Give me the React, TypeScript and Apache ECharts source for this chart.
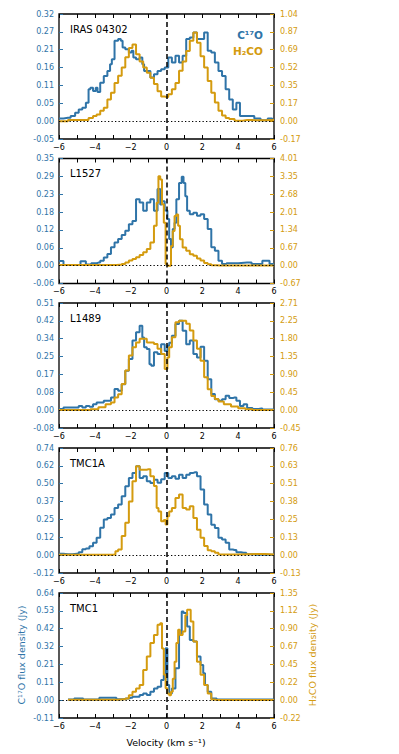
import React, { useEffect, useRef } from "react";
import * as echarts from "echarts";

const BLUE = "#2f74a8";
const ORANGE = "#d49b0f";
const FONT = "DejaVu Sans";

const panelNames = ["IRAS 04302", "L1527", "L1489", "TMC1A", "TMC1"];
const leftMax = [0.32, 0.35, 0.508, 0.74, 0.64];
const rightMax = [1.04, 4.014, 2.7058, 0.76, 1.35];
const leftTickLabels = [
  ["-0.05", "0.00", "0.05", "0.11", "0.16", "0.21", "0.27", "0.32"],
  ["-0.06", "0.00", "0.06", "0.12", "0.18", "0.23", "0.29", "0.35"],
  ["-0.08", "0.00", "0.08", "0.17", "0.25", "0.34", "0.42", "0.51"],
  ["-0.12", "0.00", "0.12", "0.25", "0.37", "0.50", "0.62", "0.74"],
  ["-0.11", "0.00", "0.11", "0.21", "0.32", "0.42", "0.53", "0.64"],
];
const rightTickLabels = [
  ["-0.17", "0.00", "0.17", "0.35", "0.52", "0.69", "0.87", "1.04"],
  ["-0.67", "0.00", "0.67", "1.34", "2.01", "2.68", "3.35", "4.01"],
  ["-0.45", "0.00", "0.45", "0.90", "1.35", "1.80", "2.25", "2.71"],
  ["-0.13", "0.00", "0.13", "0.25", "0.38", "0.51", "0.63", "0.76"],
  ["-0.22", "0.00", "0.22", "0.45", "0.67", "0.90", "1.12", "1.35"],
];
const velocityTicks = [-6, -4, -2, 0, 2, 4, 6];

// [velocity km/s, flux Jy]
const c17oIRAS: [number, number][] = [
  [-6, 0.008], [-5.5, 0.01], [-5.2, 0.015], [-5, 0.025], [-4.8, 0.035], [-4.6, 0.04], [-4.4, 0.055],
  [-4.3, 0.095], [-4.2, 0.1], [-4, 0.09], [-3.9, 0.1], [-3.8, 0.087], [-3.6, 0.115], [-3.4, 0.135],
  [-3.2, 0.15], [-3.1, 0.17], [-3, 0.185], [-2.8, 0.24], [-2.6, 0.245], [-2.5, 0.24], [-2.4, 0.22],
  [-2.2, 0.215], [-2, 0.205], [-1.9, 0.21], [-1.8, 0.19], [-1.6, 0.185], [-1.4, 0.19], [-1.3, 0.17],
  [-1.2, 0.15], [-1, 0.15], [-0.8, 0.13], [-0.6, 0.14], [-0.4, 0.15], [-0.2, 0.155], [0, 0.16],
  [0.2, 0.19], [0.4, 0.175], [0.6, 0.195], [0.8, 0.175], [1, 0.195], [1.2, 0.245], [1.4, 0.25],
  [1.6, 0.265], [1.8, 0.245], [2, 0.245], [2.2, 0.265], [2.4, 0.21], [2.6, 0.205], [2.8, 0.175],
  [3, 0.15], [3.2, 0.135], [3.4, 0.095], [3.6, 0.065], [3.8, 0.035], [4, 0.055], [4.2, 0.015],
  [4.5, 0.015], [4.8, 0.015], [5, 0.008], [5.5, 0.003], [5.8, 0.008], [6, 0.004],
];
const h2coIRAS: [number, number][] = [
  [-6, 0], [-5, 0.01], [-4.5, 0.01], [-4.2, 0.03], [-4, 0.05], [-3.8, 0.065], [-3.6, 0.1], [-3.4, 0.13],
  [-3.2, 0.21], [-3, 0.275], [-2.8, 0.37], [-2.6, 0.44], [-2.4, 0.52], [-2.2, 0.62], [-2, 0.71],
  [-1.8, 0.745], [-1.6, 0.65], [-1.4, 0.58], [-1.2, 0.52], [-1, 0.47], [-0.8, 0.42], [-0.6, 0.36],
  [-0.4, 0.29], [-0.2, 0.24], [0, 0.235], [0.2, 0.26], [0.4, 0.31], [0.6, 0.37], [0.8, 0.49], [1, 0.58],
  [1.2, 0.68], [1.4, 0.78], [1.6, 0.86], [1.8, 0.76], [2, 0.63], [2.2, 0.52], [2.4, 0.39], [2.6, 0.275],
  [2.8, 0.18], [3, 0.1], [3.2, 0.055], [3.4, 0.03], [3.6, 0.02], [4, 0.005], [4.5, 0.01], [5, 0.008], [6, 0.01],
];

const c17oL1527: [number, number][] = [
  [-6, 0.015], [-5.8, 0.015], [-5.7, 0.002], [-5, 0.002], [-4.6, 0.014], [-4.4, 0.004], [-4, 0.008],
  [-3.8, 0.01], [-3.6, 0.016], [-3.4, 0.027], [-3.2, 0.038], [-3, 0.06], [-2.8, 0.076], [-2.6, 0.087],
  [-2.4, 0.1], [-2.2, 0.114], [-2, 0.135], [-1.8, 0.146], [-1.6, 0.217], [-1.4, 0.206], [-1.2, 0.179],
  [-1, 0.206], [-0.8, 0.217], [-0.6, 0.179], [-0.4, 0.25], [-0.3, 0.2], [-0.2, 0.21], [0, 0.18],
  [0.1, 0.152], [0.2, 0.087], [0.3, 0.06], [0.4, 0.12], [0.5, 0.14], [0.6, 0.217], [0.8, 0.27],
  [0.9, 0.29], [1, 0.27], [1.1, 0.227], [1.2, 0.179], [1.4, 0.168], [1.6, 0.173], [1.8, 0.163],
  [2, 0.168], [2.2, 0.152], [2.4, 0.12], [2.6, 0.06], [2.8, 0.049], [3, 0.016], [3.2, 0.005],
  [3.5, 0.008], [4.5, 0.01], [5, 0.005], [5.7, 0.016], [5.8, 0.005], [6, 0.005],
];
const h2coL1527: [number, number][] = [
  [-6, 0.02], [-3, 0.02], [-2.6, 0.03], [-2.4, 0.06], [-2.2, 0.12], [-2, 0.19], [-1.8, 0.25], [-1.6, 0.31],
  [-1.4, 0.4], [-1.2, 0.5], [-1, 0.62], [-0.8, 0.87], [-0.6, 1.49], [-0.5, 2.36], [-0.4, 3.35],
  [-0.3, 3.23], [-0.2, 2.3], [-0.1, 1.61], [0, 0.06], [0.1, 0], [0.2, 0], [0.3, 0.74], [0.4, 1.3],
  [0.5, 1.86], [0.6, 1.92], [0.7, 1.49], [0.8, 0.99], [1, 0.68], [1.2, 0.56], [1.4, 0.43], [1.6, 0.37],
  [1.8, 0.27], [2, 0.19], [2.2, 0.1], [2.4, 0.05], [2.6, 0.015], [3, 0.005], [6, 0.005],
];

const c17oL1489: [number, number][] = [
  [-6, 0.005], [-5.5, 0.013], [-5, 0.013], [-4.8, 0.02], [-4.6, 0.012], [-4.4, 0.02], [-4.2, 0.016],
  [-4, 0.028], [-3.8, 0.036], [-3.6, 0.036], [-3.4, 0.044], [-3.2, 0.044], [-3, 0.06], [-2.8, 0.1],
  [-2.6, 0.092], [-2.4, 0.123], [-2.2, 0.187], [-2, 0.242], [-1.8, 0.33], [-1.6, 0.369], [-1.4, 0.4],
  [-1.3, 0.345], [-1.2, 0.298], [-1, 0.29], [-0.9, 0.218], [-0.8, 0.21], [-0.6, 0.274], [-0.4, 0.266],
  [-0.2, 0.313], [0, 0.28], [0.1, 0.305], [0.2, 0.32], [0.4, 0.353], [0.6, 0.408], [0.8, 0.424],
  [1, 0.376], [1.2, 0.313], [1.4, 0.33], [1.6, 0.266], [1.8, 0.25], [2, 0.3], [2.2, 0.234], [2.4, 0.147],
  [2.6, 0.076], [2.8, 0.052], [3, 0.044], [3.2, 0.052], [3.4, 0.068], [3.6, 0.057], [3.8, 0.06],
  [4, 0.044], [4.2, 0.02], [4.4, 0.028], [4.6, 0.01], [5, 0.005], [5.3, 0.008], [5.4, 0.003], [6, 0.003],
];
const h2coL1489: [number, number][] = [
  [-6, 0.005], [-4.5, 0.005], [-4, 0.025], [-3.6, 0.07], [-3.2, 0.15], [-3, 0.19], [-2.8, 0.32], [-2.6, 0.4],
  [-2.4, 0.66], [-2.2, 1.0], [-2, 1.38], [-1.8, 1.59], [-1.6, 1.71], [-1.4, 1.8], [-1.2, 1.8], [-1, 1.71],
  [-0.8, 1.71], [-0.6, 1.67], [-0.4, 1.55], [-0.2, 1.42], [0, 1.04], [0.1, 1.33], [0.2, 1.59], [0.4, 1.84],
  [0.6, 2.22], [0.8, 2.26], [1, 2.26], [1.2, 2.18], [1.4, 2.01], [1.6, 1.76], [1.8, 1.55], [2, 1.25],
  [2.2, 0.83], [2.4, 0.53], [2.6, 0.36], [2.8, 0.28], [3, 0.22], [3.4, 0.15], [3.8, 0.09], [4.2, 0.05],
  [4.6, 0.025], [5, 0.005], [6, 0.005],
];

const c17oTMC1A: [number, number][] = [
  [-6, 0.01], [-5.5, 0.006], [-5, 0.01], [-4.8, 0.02], [-4.6, 0.04], [-4.4, 0.046], [-4.2, 0.062],
  [-4, 0.085], [-3.8, 0.12], [-3.6, 0.19], [-3.4, 0.246], [-3.2, 0.257], [-3, 0.28], [-2.8, 0.326],
  [-2.6, 0.35], [-2.4, 0.407], [-2.2, 0.476], [-2, 0.533], [-1.8, 0.568], [-1.6, 0.614], [-1.4, 0.533],
  [-1.2, 0.545], [-1, 0.51], [-0.8, 0.499], [-0.6, 0.52], [-0.4, 0.5], [-0.2, 0.525], [0, 0.568],
  [0.2, 0.533], [0.4, 0.545], [0.6, 0.527], [0.8, 0.556], [1, 0.533], [1.2, 0.556], [1.4, 0.568],
  [1.6, 0.572], [1.8, 0.545], [2, 0.453], [2.2, 0.35], [2.4, 0.28], [2.6, 0.21], [2.8, 0.188], [3, 0.12],
  [3.2, 0.108], [3.4, 0.085], [3.6, 0.039], [3.8, 0.035], [4, 0.02], [4.3, 0.016], [4.6, 0.006], [5, 0.003], [6, 0.003],
];
const h2coTMC1A: [number, number][] = [
  [-6, 0.003], [-3, 0.003], [-2.9, 0.005], [-2.8, 0.028], [-2.6, 0.04], [-2.4, 0.135], [-2.2, 0.23],
  [-2, 0.38], [-1.8, 0.524], [-1.6, 0.63], [-1.4, 0.606], [-1.2, 0.606], [-1, 0.61], [-0.8, 0.56],
  [-0.6, 0.49], [-0.5, 0.335], [-0.4, 0.31], [-0.2, 0.24], [-0.1, 0.25], [0, 0.217], [0.1, 0.276],
  [0.2, 0.31], [0.4, 0.335], [0.6, 0.406], [0.8, 0.43], [1, 0.335], [1.2, 0.323], [1.4, 0.347],
  [1.6, 0.264], [1.8, 0.18], [2, 0.123], [2.2, 0.064], [2.4, 0.035], [2.6, 0.028], [2.8, 0.017],
  [3, 0.005], [5, 0.008], [6, 0.004],
];

const c17oTMC1: [number, number][] = [
  [-5.5, 0.004], [-4.8, 0.01], [-4.5, 0.004], [-3, 0.014], [-2.6, 0.006], [-2.2, 0.01], [-2, 0.014],
  [-1.8, 0.02], [-1.6, 0.02], [-1.4, 0.03], [-1.2, 0.04], [-1, 0.03], [-0.8, 0.05], [-0.6, 0.07],
  [-0.4, 0.08], [-0.2, 0.12], [-0.1, 0.15], [0, 0.31], [0.1, 0.09], [0.2, 0.04], [0.4, 0.07], [0.6, 0.19],
  [0.8, 0.39], [0.9, 0.53], [1, 0.52], [1.1, 0.52], [1.2, 0.44], [1.4, 0.36], [1.6, 0.35], [1.8, 0.26],
  [2, 0.21], [2.1, 0.16], [2.2, 0.09], [2.4, 0.05], [2.6, 0.01], [3, 0.004], [6, 0.004],
];
const h2coTMC1: [number, number][] = [
  [-5.5, 0.005], [-3, 0.005], [-2.4, 0.01], [-2.2, 0.02], [-2, 0.063], [-1.8, 0.105], [-1.6, 0.148],
  [-1.4, 0.19], [-1.2, 0.38], [-1, 0.55], [-0.8, 0.72], [-0.6, 0.82], [-0.4, 0.95], [-0.3, 0.97],
  [-0.2, 0.65], [-0.1, 0.32], [0, 0.15], [0.1, 0.084], [0.2, 0.063], [0.3, 0.105], [0.4, 0.27],
  [0.5, 0.485], [0.6, 0.72], [0.7, 0.886], [0.8, 0.82], [1, 0.865], [1.1, 1.07], [1.2, 1.14], [1.3, 1.14],
  [1.4, 0.99], [1.6, 0.74], [1.8, 0.485], [2, 0.32], [2.2, 0.19], [2.4, 0.084], [2.6, 0.008], [2.8, 0.003], [6, 0.003],
];

const c17oSpectra = [c17oIRAS, c17oL1527, c17oL1489, c17oTMC1A, c17oTMC1];
const h2coSpectra = [h2coIRAS, h2coL1527, h2coL1489, h2coTMC1A, h2coTMC1];

const gridTops = [14, 158.5, 303, 448, 593];
const GRID_LEFT = 59;
const GRID_W = 215;
const GRID_H = 125;

function buildOption() {
  const grid: any[] = [];
  const xAxis: any[] = [];
  const yAxis: any[] = [];
  const series: any[] = [];
  const graphic: any[] = [];

  panelNames.forEach((name, i) => {
    grid.push({
      left: GRID_LEFT,
      top: gridTops[i],
      width: GRID_W,
      height: GRID_H,
      show: true,
      borderColor: "#000",
      borderWidth: 1.3,
      backgroundColor: "transparent",
    });
    xAxis.push({
      type: "value",
      gridIndex: i,
      min: -6,
      max: 6,
      interval: 1,
      position: "bottom",
      axisLine: { show: false, onZero: false },
      axisTick: { show: true, inside: true, length: 4, lineStyle: { color: "#000", width: 1 } },
      splitLine: { show: false },
      axisLabel: {
        show: true,
        margin: 4,
        fontFamily: FONT,
        fontSize: 8,
        color: "#000",
        formatter: (v: number) =>
          velocityTicks.indexOf(v) >= 0 ? String(v).replace("-", "\u2212") : "",
      },
    });
    xAxis.push({
      type: "value",
      gridIndex: i,
      min: -6,
      max: 6,
      interval: 1,
      position: "top",
      axisLine: { show: false, onZero: false },
      axisTick: { show: true, inside: true, length: 4, lineStyle: { color: "#000", width: 1 } },
      splitLine: { show: false },
      axisLabel: { show: false },
    });
    const lMax = leftMax[i];
    const rMax = rightMax[i];
    const lLabels = leftTickLabels[i];
    const rLabels = rightTickLabels[i];
    yAxis.push({
      type: "value",
      gridIndex: i,
      position: "left",
      min: -lMax / 6,
      max: lMax,
      interval: lMax / 6,
      axisLine: { show: false, onZero: false },
      axisTick: { show: true, inside: true, length: 4, lineStyle: { color: BLUE, width: 1 } },
      splitLine: { show: false },
      axisLabel: {
        margin: 5,
        fontFamily: FONT,
        fontSize: 8,
        color: BLUE,
        showMinLabel: true,
        showMaxLabel: true,
        formatter: (v: number) => {
          const k = Math.round((v + lMax / 6) / (lMax / 6));
          return lLabels[k] ?? "";
        },
      },
    });
    yAxis.push({
      type: "value",
      gridIndex: i,
      position: "right",
      min: -rMax / 6,
      max: rMax,
      interval: rMax / 6,
      axisLine: { show: false, onZero: false },
      axisTick: { show: true, inside: true, length: 4, lineStyle: { color: ORANGE, width: 1 } },
      splitLine: { show: false },
      axisLabel: {
        margin: 6,
        fontFamily: FONT,
        fontSize: 8,
        color: ORANGE,
        showMinLabel: true,
        showMaxLabel: true,
        formatter: (v: number) => {
          const k = Math.round((v + rMax / 6) / (rMax / 6));
          return rLabels[k] ?? "";
        },
      },
    });

    series.push({
      type: "line",
      name: "C17O " + name,
      xAxisIndex: i * 2,
      yAxisIndex: i * 2,
      data: c17oSpectra[i],
      step: "middle",
      showSymbol: false,
      symbol: "none",
      lineStyle: { color: BLUE, width: 2 },
      z: 2,
    });
    series.push({
      type: "line",
      name: "H2CO " + name,
      xAxisIndex: i * 2,
      yAxisIndex: i * 2 + 1,
      data: h2coSpectra[i],
      step: "middle",
      showSymbol: false,
      symbol: "none",
      lineStyle: { color: ORANGE, width: 2 },
      z: 3,
      markLine: {
        silent: true,
        symbol: ["none", "none"],
        label: { show: false },
        data: [
          { xAxis: 0, lineStyle: { color: "#000", type: [5, 3], width: 1.5 } },
          { yAxis: 0, lineStyle: { color: "#000", type: [1.3, 2.2], width: 1.2 } },
        ],
      },
    });

    graphic.push({
      type: "text",
      left: 70,
      top: gridTops[i] + 10,
      style: { text: name, fill: "#000", font: `10px "${FONT}"` },
    });
  });

  graphic.push({
    type: "text",
    x: 263,
    y: 35,
    style: {
      text: "C\u00B9\u2077O",
      fill: BLUE,
      font: `bold 10.5px "${FONT}"`,
      textAlign: "right",
      textVerticalAlign: "middle",
    },
  });
  graphic.push({
    type: "text",
    x: 263,
    y: 51,
    style: {
      text: "H\u2082CO",
      fill: ORANGE,
      font: `bold 10.5px "${FONT}"`,
      textAlign: "right",
      textVerticalAlign: "middle",
    },
  });
  graphic.push({
    type: "text",
    x: 21,
    y: 655,
    rotation: Math.PI / 2,
    style: {
      text: "C\u00B9\u2077O flux density (Jy)",
      fill: BLUE,
      font: `9.5px "${FONT}"`,
      textAlign: "center",
      textVerticalAlign: "middle",
    },
  });
  graphic.push({
    type: "text",
    x: 312,
    y: 655,
    rotation: Math.PI / 2,
    style: {
      text: "H\u2082CO flux density (Jy)",
      fill: ORANGE,
      font: `9.5px "${FONT}"`,
      textAlign: "center",
      textVerticalAlign: "middle",
    },
  });
  graphic.push({
    type: "text",
    x: 166,
    y: 742,
    style: {
      text: "Velocity (km s\u207B\u00B9)",
      fill: "#000",
      font: `9.5px "${FONT}"`,
      textAlign: "center",
      textVerticalAlign: "middle",
    },
  });

  return {
    animation: false,
    backgroundColor: "#fff",
    grid,
    xAxis,
    yAxis,
    series,
    graphic,
  };
}

export default function App() {
  const ref = useRef<HTMLDivElement>(null);
  useEffect(() => {
    if (!ref.current) return;
    const chart = echarts.init(ref.current, undefined, { renderer: "svg" });
    chart.setOption(buildOption() as any);
    return () => chart.dispose();
  }, []);
  return (
    <div
      ref={ref}
      style={{ position: "fixed", left: 0, top: 0, width: 399, height: 754, background: "#fff" }}
    />
  );
}
